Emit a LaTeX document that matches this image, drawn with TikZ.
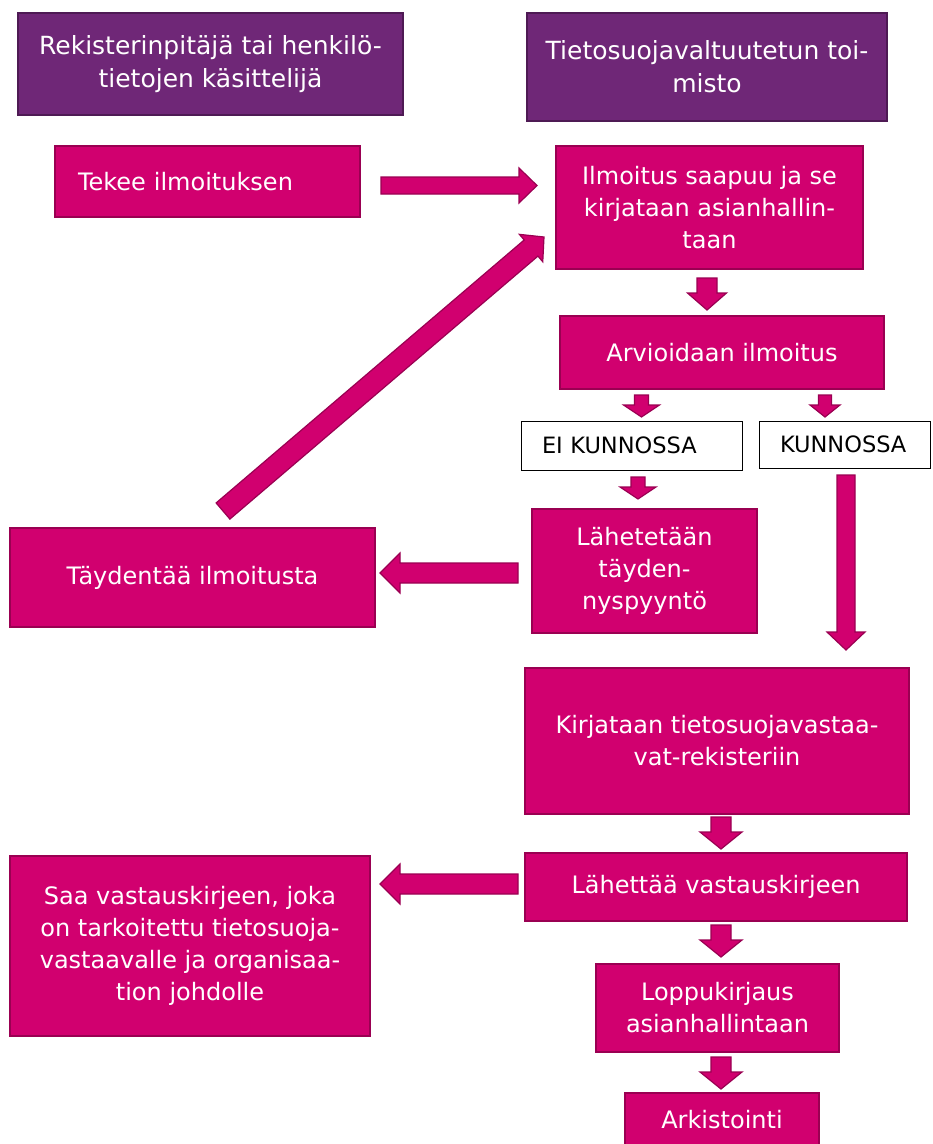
\documentclass[tikz,border=0pt]{standalone}
\usepackage{fontspec}
\setmainfont{DejaVu Sans}
\usetikzlibrary{calc}
\definecolor{violetfill}{HTML}{6F2777}
\definecolor{violetline}{HTML}{4E1A54}
\definecolor{pinkfill}{HTML}{D1006F}
\definecolor{pinkline}{HTML}{9A0052}
\tikzset{
    flowbox/.style={line width=1.5pt, inner sep=0pt, align=center,
        font=\fontsize{24}{32}\selectfont},
    headbox/.style={flowbox, draw=violetline, fill=violetfill, text=white,
        font=\fontsize{25}{33}\selectfont},
    stepbox/.style={flowbox, draw=pinkline, fill=pinkfill, text=white},
    choicebox/.style={flowbox, draw=black, fill=white, line width=0.8pt, text=black,
        font=\fontsize{22.5}{32}\selectfont},
    arrowline/.style={draw=pinkline, fill=pinkfill, line width=1.2pt, line join=miter},
}
% block arrow: from, to, body half width, head half width, head length
\newcommand\blockarrow[5]{
    \coordinate (headbase) at ($(#2)!#5pt!(#1)$);
    \draw[arrowline] ($(#1)!#3pt!90:(#2)$) -- ($(headbase)!#3pt!90:(#2)$)
        -- ($(headbase)!#4pt!90:(#2)$) -- (#2) -- ($(headbase)!#4pt!-90:(#2)$)
        -- ($(headbase)!#3pt!-90:(#2)$) -- ($(#1)!#3pt!-90:(#2)$) -- cycle;
}
\begin{document}
\begin{tikzpicture}[x=1pt,y=-1pt]
    \clip (0,0) rectangle (933,1144);
    %% column heads
    \node[headbox, minimum width=385, minimum height=102] (hreg) at (210.5,64)
        {Rekisterinpitäjä tai henkilö-\\tietojen käsittelijä};
    \node[headbox, minimum width=360, minimum height=108] (htsv) at (707,67)
        {Tietosuojavaltuutetun toi-\\misto};
    %% left column
    \node[stepbox, minimum width=305, minimum height=71, align=left,
        inner xsep=23, text width=259] (tekee) at (207.5,181.5) {Tekee ilmoituksen};
    \node[stepbox, minimum width=365, minimum height=99] (tayd) at (192.5,577.5)
        {Täydentää ilmoitusta};
    \node[stepbox, minimum width=360, minimum height=180] (saa) at (190,946)
        {Saa vastauskirjeen, joka\\on tarkoitettu tietosuoja-\\vastaavalle ja organisaa-\\tion johdolle};
    %% right column
    \node[stepbox, minimum width=307, minimum height=123] (saapuu) at (709.5,207.5)
        {Ilmoitus saapuu ja se\\kirjataan asianhallin-\\taan};
    \node[stepbox, minimum width=324, minimum height=73] (arvio) at (722,352.5)
        {Arvioidaan ilmoitus};
    \node[choicebox, minimum width=221, minimum height=49, align=left,
        inner xsep=21, text width=179] (eikun) at (631.5,445.5) {EI KUNNOSSA};
    \node[choicebox, minimum width=171, minimum height=47, align=left,
        inner xsep=21, text width=129] (kun) at (844.5,444.5) {KUNNOSSA};
    \node[stepbox, minimum width=225, minimum height=124] (pyynto) at (644.5,571)
        {Lähetetään\\täyden-\\nyspyyntö};
    \node[stepbox, minimum width=384, minimum height=146] (rek) at (717,741)
        {Kirjataan tietosuojavastaa-\\vat-rekisteriin};
    \node[stepbox, minimum width=382, minimum height=68] (vast) at (716,887)
        {Lähettää vastauskirjeen};
    \node[stepbox, minimum width=243, minimum height=88] (loppu) at (717.5,1008)
        {Loppukirjaus\\asianhallintaan};
    \node[stepbox, minimum width=194, minimum height=54] (arkisto) at (722,1120)
        {Arkistointi};
    %% arrow ends
    \coordinate (tekee-s) at (381,185.5);   \coordinate (tekee-e) at (537,185.5);
    \coordinate (tayd-s) at (223,511);      \coordinate (tayd-e) at (544,237);
    \coordinate (saapuu-s) at (707,278);    \coordinate (saapuu-e) at (707,310);
    \coordinate (arvio-s) at (641.5,395);   \coordinate (arvio-e) at (641.5,417);
    \coordinate (arvio2-s) at (825,395);    \coordinate (arvio2-e) at (825,417);
    \coordinate (eikun-s) at (638,477);     \coordinate (eikun-e) at (638,499);
    \coordinate (pyynto-s) at (518,573);    \coordinate (pyynto-e) at (380,573);
    \coordinate (kun-s) at (846,475);       \coordinate (kun-e) at (846,650);
    \coordinate (rek-s) at (721,817);       \coordinate (rek-e) at (721,849);
    \coordinate (vast-s) at (518,884);      \coordinate (vast-e) at (380,884);
    \coordinate (vast2-s) at (721,925);     \coordinate (vast2-e) at (721,957);
    \coordinate (loppu-s) at (721,1057);    \coordinate (loppu-e) at (721,1089);
    %% arrows
    \blockarrow{tekee-s}{tekee-e}{8.5}{17.5}{18}
    \blockarrow{tayd-s}{tayd-e}{10.6}{18}{17}
    \blockarrow{saapuu-s}{saapuu-e}{10}{19.5}{17}
    \blockarrow{arvio-s}{arvio-e}{7}{18}{12}
    \blockarrow{arvio2-s}{arvio2-e}{6.5}{15}{12}
    \blockarrow{eikun-s}{eikun-e}{7}{18}{12}
    \blockarrow{pyynto-s}{pyynto-e}{10}{20}{20}
    \blockarrow{kun-s}{kun-e}{9}{19}{18}
    \blockarrow{rek-s}{rek-e}{10}{21}{17}
    \blockarrow{vast-s}{vast-e}{10}{20}{20}
    \blockarrow{vast2-s}{vast2-e}{10}{21}{17}
    \blockarrow{loppu-s}{loppu-e}{10}{21}{17}
\end{tikzpicture}
\end{document}
